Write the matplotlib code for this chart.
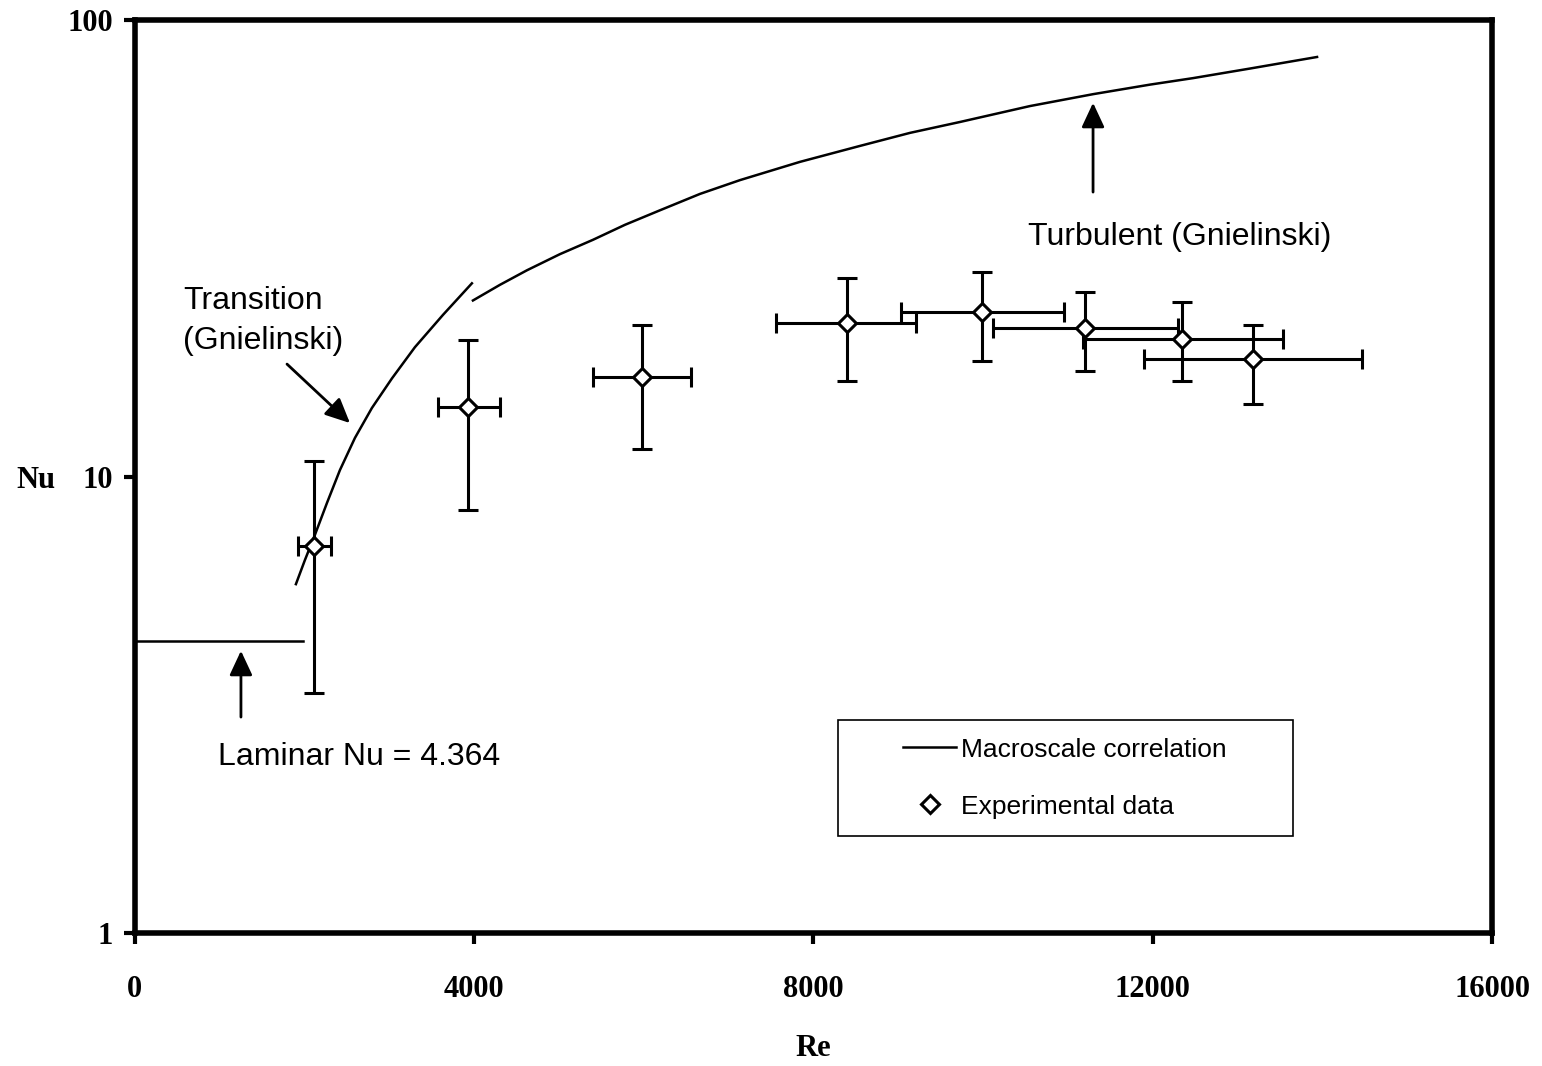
import matplotlib
matplotlib.use('Agg')
import matplotlib.pyplot as plt
from matplotlib.patches import Rectangle

# Experimental data (Re, Nu) with error bars
re_exp = [2110, 3930, 5980, 8390, 9990, 11200, 12340, 13180]
nu_exp = [7.04, 14.2, 16.5, 21.7, 22.9, 21.2, 20.0, 18.1]
nu_hi = [10.8, 19.9, 21.5, 27.2, 28.0, 25.4, 24.1, 21.5]
nu_lo = [3.35, 8.45, 11.5, 16.2, 17.9, 17.0, 16.2, 14.4]
re_hi = [2310, 4310, 6560, 9210, 10950, 12300, 13540, 14470]
re_lo = [1920, 3570, 5400, 7560, 9030, 10120, 11180, 11900]

# Macroscale correlation pieces
re_lam = [0, 1980]
nu_lam = [4.364, 4.364]
re_tr = [1898, 2004, 2122, 2264, 2417, 2594, 2794, 3030, 3301, 3632, 3973]
nu_tr = [5.81, 6.56, 7.45, 8.75, 10.33, 12.15, 14.13, 16.4, 19.2, 22.6, 26.5]
re_tu = [3985, 4304, 4622, 5011, 5400, 5778, 6190, 6662, 7134, 7841, 8549,
         9138, 9728, 10553, 11296, 11968, 12475, 13147, 13937]
nu_tu = [24.3, 26.3, 28.3, 30.7, 33.0, 35.6, 38.3, 41.6, 44.6, 48.9, 53.0,
         56.6, 59.8, 64.8, 68.8, 72.2, 74.6, 78.3, 83.0]

serif = 'Liberation Serif'
sans = 'Liberation Sans'

fig = plt.figure(figsize=(15.42, 10.66), dpi=100)
ax = fig.add_axes([0.0875, 0.1248, 0.8801, 0.8564])

ax.plot(re_lam, nu_lam, color='black', lw=1.8)
ax.plot(re_tr, nu_tr, color='black', lw=1.8)
ax.plot(re_tu, nu_tu, color='black', lw=1.8, label='Macroscale correlation')

yerr = [[n - l for n, l in zip(nu_exp, nu_lo)], [h - n for n, h in zip(nu_exp, nu_hi)]]
xerr = [[r - l for r, l in zip(re_exp, re_lo)], [h - r for r, h in zip(re_exp, re_hi)]]
ax.errorbar(re_exp, nu_exp, yerr=yerr, xerr=xerr, fmt='none', ecolor='black',
            elinewidth=2.2, capsize=7, capthick=2.2, zorder=3)
ax.plot(re_exp, nu_exp, ls='none', marker='D', ms=9, mfc='white', mec='black',
        mew=2.2, zorder=4, label='Experimental data')

ax.set_yscale('log')
ax.set_xlim(0, 16000)
ax.set_ylim(1, 100)
ax.set_xticks([0, 4000, 8000, 12000, 16000])
ax.set_yticks([1, 10, 100])
ax.set_yticklabels(['1', '10', '100'])
ax.minorticks_off()
ax.tick_params(axis='both', direction='out', length=8, width=3, labelsize=22)
ax.tick_params(axis='y', pad=8)
ax.tick_params(axis='x', pad=22)
for lab in ax.get_xticklabels() + ax.get_yticklabels():
    lab.set_fontfamily(serif)
    lab.set_fontweight('bold')
for sp in ax.spines.values():
    sp.set_linewidth(4)

ax.set_xlabel('Re', fontfamily=serif, fontweight='bold', fontsize=22, labelpad=22)
ax.text(-0.073, 0.496, 'Nu', transform=ax.transAxes, fontfamily=serif,
        fontweight='bold', fontsize=22, ha='center', va='center')

arrow = dict(arrowstyle='-|>,head_length=1.5,head_width=0.7', color='black', lw=2)
ax.annotate('', xy=(2559, 12.97), xytext=(1769, 17.8), arrowprops=arrow)
ax.annotate('', xy=(11296, 66.8), xytext=(11296, 41.4), arrowprops=arrow)
ax.annotate('', xy=(1250, 4.21), xytext=(1250, 2.93), arrowprops=arrow)

ax.text(566, 21.9, 'Transition\n(Gnielinski)', fontfamily=sans, fontsize=23,
        ha='left', va='center', linespacing=1.45)
ax.text(10530, 33.5, 'Turbulent (Gnielinski)', fontfamily=sans, fontsize=23,
        ha='left', va='center')
ax.text(979, 2.43, 'Laminar Nu = 4.364', fontfamily=sans, fontsize=23,
        ha='left', va='center')

ax.add_patch(Rectangle((0.518, 0.106), 0.335, 0.127, transform=ax.transAxes,
                       fill=False, ec='black', lw=1.2, zorder=5))
ax.legend(loc='center', bbox_to_anchor=(0.6855, 0.1695), frameon=False,
          prop={'family': sans, 'size': 19}, handlelength=2.0,
          handletextpad=0.2, labelspacing=1.25)

fig.savefig('out.png', dpi=100)
